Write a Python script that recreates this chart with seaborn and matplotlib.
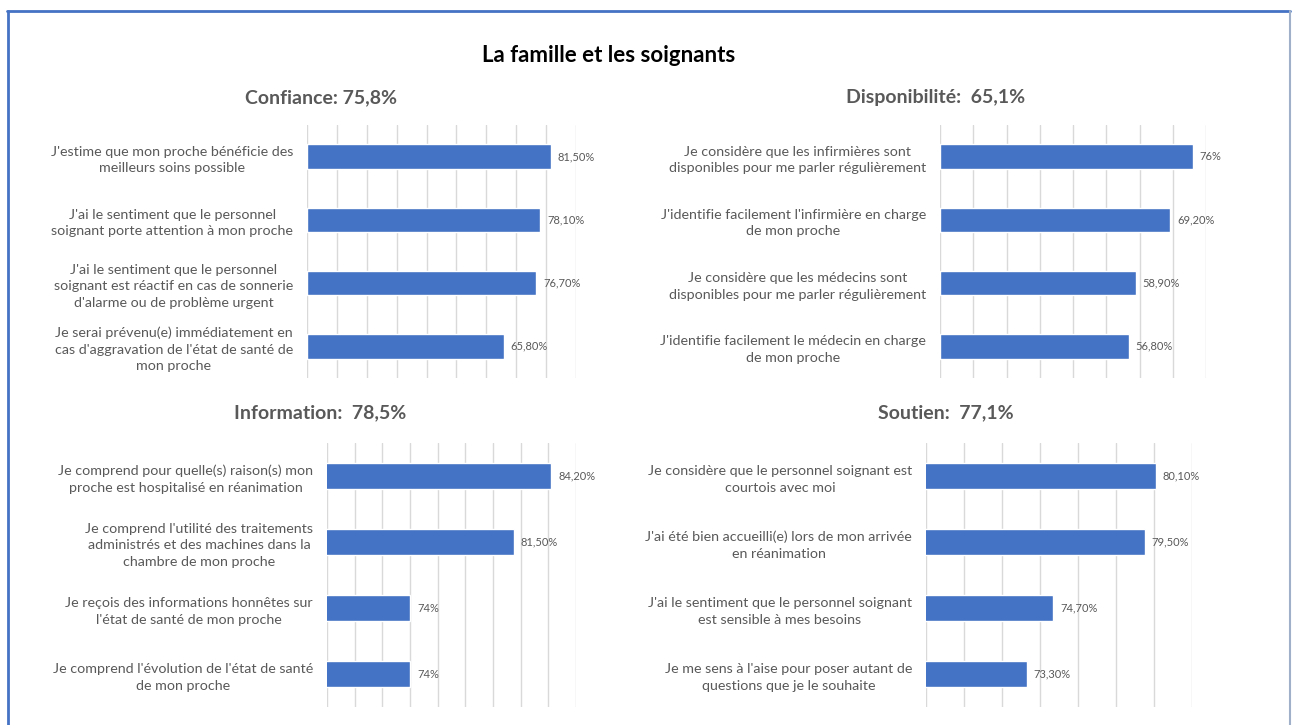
import numpy as np
import pandas as pd
import seaborn as sns
import matplotlib.pyplot as plt
from matplotlib.lines import Line2D

# --- data ---------------------------------------------------------------
main_title = "La famille et les soignants"

confiance_title = "Confiance: 75,8%"
confiance_labels = [
    "J'estime que mon proche bénéficie des\nmeilleurs soins possible",
    "J'ai le sentiment que le personnel\nsoignant porte attention à mon proche",
    "J'ai le sentiment que le personnel\nsoignant est réactif en cas de sonnerie\nd'alarme ou de problème urgent",
    "Je serai prévenu(e) immédiatement en\ncas d'aggravation de l'état de santé de\nmon proche",
]
confiance_values = [81.5, 78.1, 76.7, 65.8]

dispo_title = "Disponibilité:  65,1%"
dispo_labels = [
    "Je considère que les infirmières sont\ndisponibles pour me parler régulièrement",
    "J'identifie facilement l'infirmière en charge\nde mon proche",
    "Je considère que les médecins sont\ndisponibles pour me parler régulièrement",
    "J'identifie facilement le médecin en charge\nde mon proche",
]
dispo_values = [76.0, 69.2, 58.9, 56.8]

info_title = "Information:  78,5%"
info_labels = [
    "Je comprend pour quelle(s) raison(s) mon\nproche est hospitalisé en réanimation",
    "Je comprend l'utilité des traitements\nadministrés et des machines dans la\nchambre de mon proche",
    "Je reçois des informations honnêtes sur\nl'état de santé de mon proche",
    "Je comprend l'évolution de l'état de santé\nde mon proche",
]
info_values = [84.2, 81.5, 74.0, 74.0]

soutien_title = "Soutien:  77,1%"
soutien_labels = [
    "Je considère que le personnel soignant est\ncourtois avec moi",
    "J'ai été bien accueilli(e) lors de mon arrivée\nen réanimation",
    "J'ai le sentiment que le personnel soignant\nest sensible à mes besoins",
    "Je me sens à l'aise pour poser autant de\nquestions que je le souhaite",
]
soutien_values = [80.1, 79.5, 74.7, 73.3]

# --- style --------------------------------------------------------------
W, H = 1295, 725
BAR = "#4472C4"
GREY = "#595959"

sns.set_theme(style="white")
plt.rcParams["font.family"] = ["Lato", "DejaVu Sans"]


def fmt_pct(v):
    if float(v).is_integer():
        return f"{int(v)}%"
    return f"{v:.2f}".replace(".", ",") + "%"


def px_axes(fig, left, top, right, bottom):
    return fig.add_axes([left / W, 1 - bottom / H, (right - left) / W, (bottom - top) / H])


def draw_panel(ax, labels, values, xmin, xmax, step):
    df = pd.DataFrame({"label": labels, "value": values})
    sns.barplot(data=df, x="value", y="label", ax=ax, color=BAR,
                width=0.39, errorbar=None, saturation=1)
    ax.set_xlim(xmin, xmax)
    ax.set_xticks(np.arange(xmin, xmax + step / 2, step))
    ax.grid(axis="x", color="#d9d9d9", linewidth=1)
    ax.set_axisbelow(True)
    ax.tick_params(axis="x", length=0, labelbottom=False)
    ax.tick_params(axis="y", length=0, pad=10, labelsize=10.3, labelcolor=GREY)
    for lbl in ax.get_yticklabels():
        lbl.set_multialignment("center")
        lbl.set_linespacing(1.45)
    for s in ax.spines.values():
        s.set_visible(False)
    ax.set_xlabel("")
    ax.set_ylabel("")
    ax.bar_label(ax.containers[0], labels=[fmt_pct(v) for v in values],
                 padding=5, fontsize=8, color=GREY)


fig = plt.figure(figsize=(W / 100, H / 100), dpi=100)
fig.patch.set_facecolor("white")

ax1 = px_axes(fig, 307, 125, 576, 378)
draw_panel(ax1, confiance_labels, confiance_values, 0, 90, 10)

ax2 = px_axes(fig, 940, 125, 1206, 378)
draw_panel(ax2, dispo_labels, dispo_values, 0, 80, 10)

ax3 = px_axes(fig, 327, 443, 576, 707)
draw_panel(ax3, info_labels, info_values, 68, 86, 2)

ax4 = px_axes(fig, 926, 443, 1192, 707)
draw_panel(ax4, soutien_labels, soutien_values, 68, 82, 2)

# titles
fig.text(609 / W, 1 - 55 / H, main_title, ha="center", va="center",
         fontsize=16, fontweight="bold", color="black")
for (x, y), t in zip([(321, 98), (936, 98), (320, 413), (946, 413)],
                     [confiance_title, dispo_title, info_title, soutien_title]):
    fig.text(x / W, 1 - y / H, t, ha="center", va="center",
             fontsize=14, fontweight="bold", color=GREY)

# frame around the picture
fig.add_artist(Line2D([7 / W, 1290 / W], [1 - 11 / H, 1 - 11 / H], color=BAR, lw=2))
fig.add_artist(Line2D([8 / W, 8 / W], [0, 1 - 11 / H], color=BAR, lw=2))
fig.add_artist(Line2D([1290 / W, 1290 / W], [0, 1 - 11 / H], color="#9fb0c8", lw=1.5))

fig.savefig("out.png", dpi=100)
